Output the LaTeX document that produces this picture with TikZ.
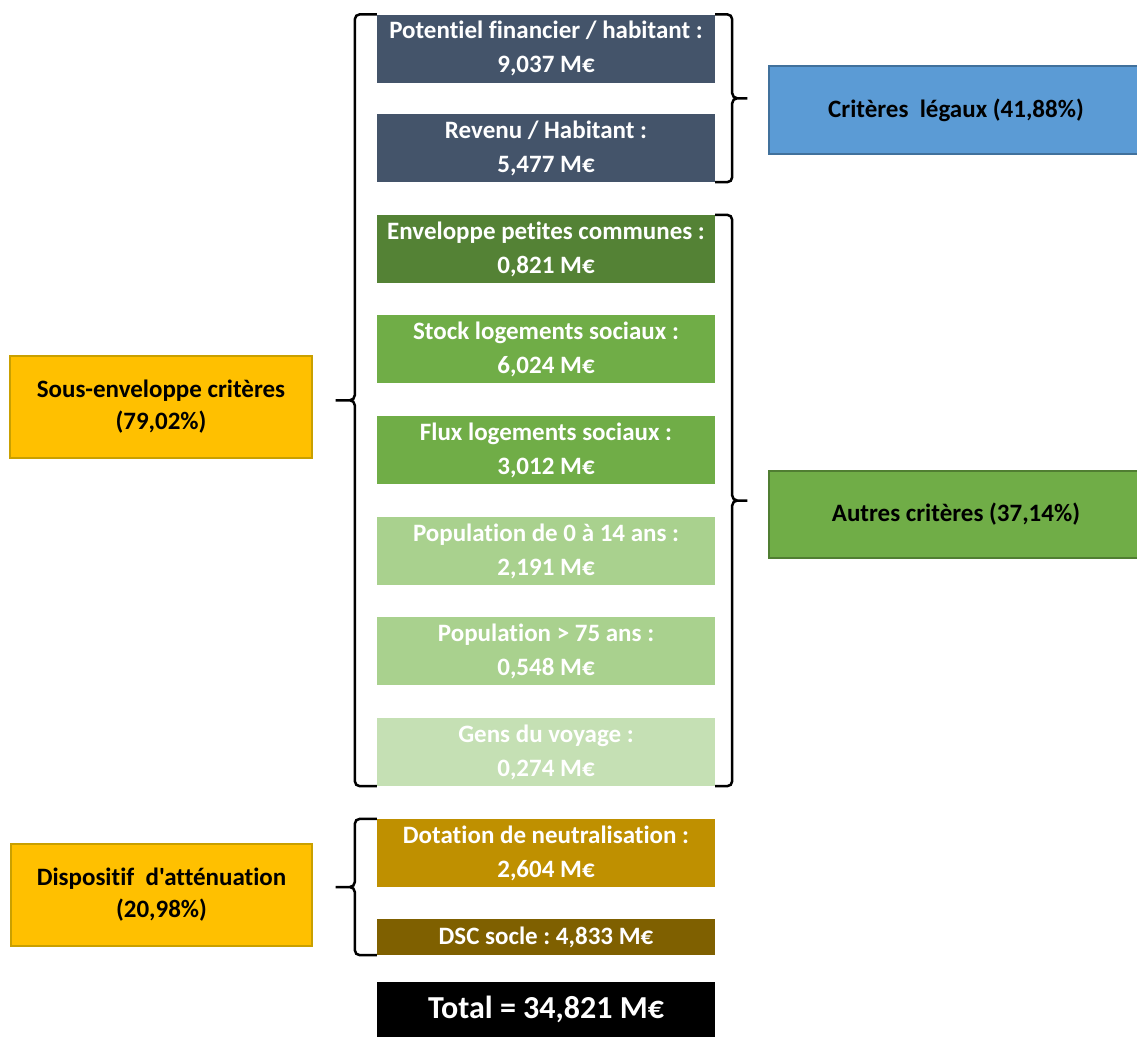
\documentclass[tikz,border=0pt]{standalone}
\usepackage{fontspec}
\setmainfont{Carlito}[Ligatures={CommonOff,TeXOff}]
\usetikzlibrary{calc}
\definecolor{slate}{HTML}{44546A}
\definecolor{dgreen}{HTML}{548235}
\definecolor{mgreen}{HTML}{70AD47}
\definecolor{lgreen}{HTML}{A9D18E}
\definecolor{pgreen}{HTML}{C5E0B4}
\definecolor{gold}{HTML}{BF9000}
\definecolor{brown}{HTML}{7F6000}
\definecolor{yel}{HTML}{FFC000}
\definecolor{yelb}{HTML}{C9A000}
\definecolor{blu}{HTML}{5B9BD5}
\definecolor{blub}{HTML}{41719C}
\definecolor{grnb}{HTML}{507E32}
\frenchspacing
\begin{document}
\begin{tikzpicture}[x=1pt,y=-1pt,
  cbox/.style={rectangle, inner sep=0pt, minimum width=338pt, minimum height=68pt, text=white, align=center,
     font=\fontsize{25}{34}\selectfont\bfseries},
  sbox/.style={rectangle, inner sep=0pt, align=center, line width=2pt,
     font=\fontsize{25}{32}\selectfont\bfseries},
  brace/.style={draw=black, line width=2.5pt, rounded corners=5pt}]
\useasboundingbox (0,0) rectangle (1137,1037);
\node[cbox, fill=slate] (b1) at (546,48.5) {Potentiel financier / habitant :\\9,037 M€};
\node[cbox, fill=slate] (b2) at (546,148) {Revenu / Habitant :\\5,477 M€};
\node[cbox, fill=dgreen] (b3) at (546,249) {Enveloppe petites communes :\\0,821 M€};
\node[cbox, fill=mgreen] (b4) at (546,349) {Stock logements sociaux :\\6,024 M€};
\node[cbox, fill=mgreen] (b5) at (546,450) {Flux logements sociaux :\\3,012 M€};
\node[cbox, fill=lgreen] (b6) at (546,551) {Population de 0 à 14 ans :\\2,191 M€};
\node[cbox, fill=lgreen] (b7) at (546,651) {Population > 75 ans :\\0,548 M€};
\node[cbox, fill=pgreen] (b8) at (546,752) {Gens du voyage :\\0,274 M€};
\node[cbox, fill=gold] (b9) at (546,853) {Dotation de neutralisation :\\2,604 M€};
\node[cbox, fill=brown, minimum height=36pt] (b10) at (546,937) {DSC socle : 4,833 M€};
\node[cbox, fill=black, minimum height=55pt, font=\fontsize{32}{38}\selectfont\bfseries] (tot) at (546,1009.5) {Total = 34,821 M€};

\node[sbox, fill=yel, draw=yelb, minimum width=302pt, minimum height=102pt] (se) at (161,407) {Sous-enveloppe critères\\(79,02\%)};
\node[sbox, fill=yel, draw=yelb, minimum width=301pt, minimum height=102pt] (da) at (161.5,895) {Dispositif\ \ d'atténuation\\(20,98\%)};
\node[sbox, fill=blu, draw=blub, minimum width=375pt, minimum height=88pt] (cl) at (956,110) {Critères\ \ légaux (41,88\%)};
\node[sbox, fill=mgreen, draw=grnb, minimum width=375pt, minimum height=87pt] (ac) at (956,514) {Autres critères (37,14\%)};

% left big brace
\draw[brace] (b1.north west) -- ++(-22,0) |- ($(b1.north west)!0.5!(b8.south west)+(-44,0)$)
  -| ($(b8.south west)+(-22,0)$) -- (b8.south west);
% right brace legal
\draw[brace] (b1.north east) -- ++(17,0) |- ($(b1.north east)!0.5!(b2.south east)+(35,0)$)
  -| ($(b2.south east)+(17,0)$) -- (b2.south east);
% right brace other
\draw[brace] (b3.north east) -- ++(17,0) |- ($(b3.north east)!0.5!(b8.south east)+(35,0)$)
  -| ($(b8.south east)+(17,0)$) -- (b8.south east);
% left brace attenuation
\draw[brace] (b9.north west) -- ++(-22,0) |- ($(b9.north west)!0.5!(b10.south west)+(-44,0)$)
  -| ($(b10.south west)+(-22,0)$) -- (b10.south west);
\end{tikzpicture}
\end{document}
